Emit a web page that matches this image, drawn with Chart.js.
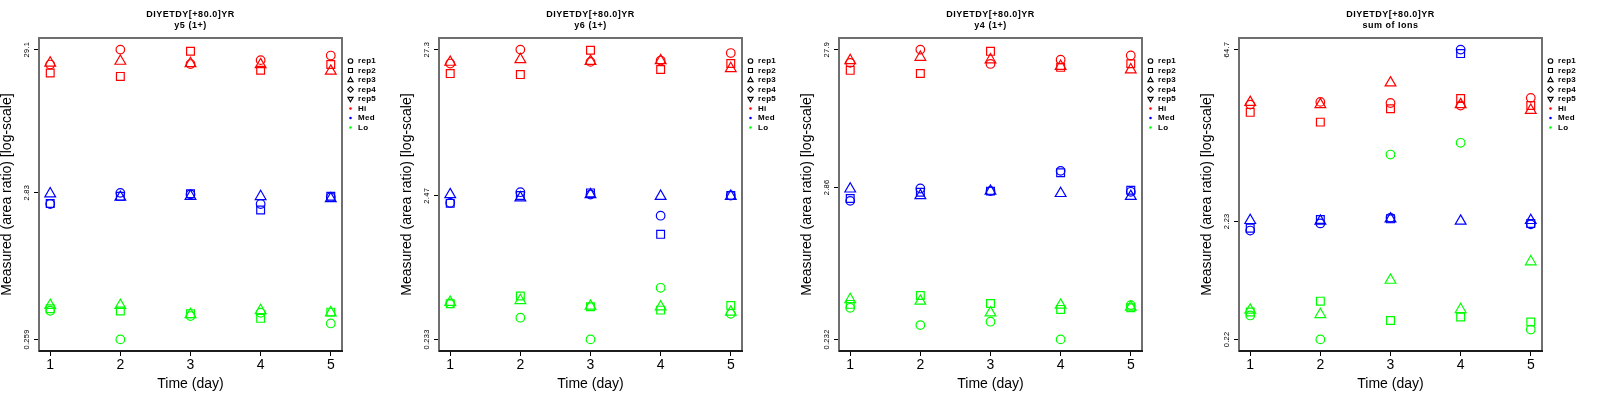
<!DOCTYPE html>
<html><head><meta charset="utf-8">
<script src="https://cdn.jsdelivr.net/npm/chart.js@4.4.1/dist/chart.umd.min.js"></script>
<style>
body{margin:0;background:#fff;width:1600px;height:400px;overflow:hidden}
.row{display:flex}
canvas{display:block}
</style>
</head><body>
<div class="row">
<canvas id="c0" width="400" height="400"></canvas>
<canvas id="c1" width="400" height="400"></canvas>
<canvas id="c2" width="400" height="400"></canvas>
<canvas id="c3" width="400" height="400"></canvas>
</div>
<script>
// ---------- data ----------
const days = [1, 2, 3, 4, 5];
const xTicks = [1, 2, 3, 4, 5];
const mainTitle = 'DIYETDY[+80.0]YR';
const subTitles = ['y5 (1+)', 'y6 (1+)', 'y4 (1+)', 'sum of Ions'];
const repNames = ['rep1', 'rep2', 'rep3', 'rep4', 'rep5'];
const groupNames = ['Hi', 'Med', 'Lo'];
const groupColors = ['#ff0000', '#0000ff', '#00ff00'];

const yTicksY5 = [0.259, 2.83, 29.1];
const yTicksY6 = [0.233, 2.47, 27.3];
const yTicksY4 = [0.232, 2.86, 27.9];
const yTicksSum = [0.22, 2.23, 64.7];

// y5 (1+)
const y5_Hi_rep1 = [22.8, 29.1, 23.0, 24.5, 26.4];
const y5_Hi_rep2 = [19.9, 18.8, 28.3, 20.8, 22.8];
const y5_Hi_rep3 = [23.4, 24.1, 23.2, 22.8, 20.5];
const y5_Med_rep1 = [2.35, 2.82, 2.75, 2.35, 2.63];
const y5_Med_rep2 = [2.37, 2.67, 2.78, 2.13, 2.67];
const y5_Med_rep3 = [2.78, 2.63, 2.67, 2.66, 2.57];
const y5_Lo_rep1 = [0.413, 0.259, 0.379, 0.400, 0.336];
const y5_Lo_rep2 = [0.427, 0.411, 0.394, 0.365, 0.404];
const y5_Lo_rep3 = [0.451, 0.451, 0.389, 0.415, 0.400];

// y6 (1+)
const y6_Hi_rep1 = [21.7, 27.3, 22.3, 22.8, 25.8];
const y6_Hi_rep2 = [18.4, 18.1, 27.0, 19.7, 21.7];
const y6_Hi_rep3 = [22.2, 23.2, 22.5, 22.8, 20.0];
const y6_Med_rep1 = [2.20, 2.62, 2.52, 1.78, 2.48];
const y6_Med_rep2 = [2.18, 2.48, 2.59, 1.31, 2.48];
const y6_Med_rep3 = [2.52, 2.39, 2.52, 2.45, 2.45];
const y6_Lo_rep1 = [0.421, 0.333, 0.233, 0.544, 0.355];
const y6_Lo_rep2 = [0.419, 0.475, 0.398, 0.377, 0.407];
const y6_Lo_rep3 = [0.429, 0.442, 0.403, 0.398, 0.365];

// y4 (1+)
const y4_Hi_rep1 = [22.4, 27.9, 22.0, 23.6, 25.3];
const y4_Hi_rep2 = [19.8, 18.8, 27.1, 20.8, 22.1];
const y4_Hi_rep3 = [23.3, 24.6, 23.6, 21.2, 20.0];
const y4_Med_rep1 = [2.29, 2.81, 2.69, 3.76, 2.66];
const y4_Med_rep2 = [2.38, 2.64, 2.69, 3.64, 2.73];
const y4_Med_rep3 = [2.79, 2.50, 2.69, 2.59, 2.47];
const y4_Lo_rep1 = [0.391, 0.294, 0.311, 0.232, 0.409];
const y4_Lo_rep2 = [0.414, 0.480, 0.420, 0.381, 0.391];
const y4_Lo_rep3 = [0.449, 0.437, 0.360, 0.409, 0.396];

// sum of Ions
const sum_Hi_rep1 = [22.0, 23.2, 22.7, 21.6, 25.1];
const sum_Hi_rep2 = [18.9, 15.6, 20.3, 24.8, 21.6];
const sum_Hi_rep3 = [23.0, 22.0, 33.7, 22.0, 19.7];
const sum_Med_rep1 = [1.86, 2.14, 2.39, 64.7, 2.10];
const sum_Med_rep2 = [1.95, 2.31, 2.34, 59.8, 2.14];
const sum_Med_rep3 = [2.27, 2.24, 2.34, 2.24, 2.27];
const sum_Lo_rep1 = [0.352, 0.220, 8.26, 10.4, 0.267];
const sum_Lo_rep2 = [0.376, 0.466, 0.319, 0.341, 0.309];
const sum_Lo_rep3 = [0.391, 0.359, 0.703, 0.396, 1.01];

const panels = [
  { sub: subTitles[0], ticks: yTicksY5, series: [[y5_Hi_rep1, y5_Hi_rep2, y5_Hi_rep3], [y5_Med_rep1, y5_Med_rep2, y5_Med_rep3], [y5_Lo_rep1, y5_Lo_rep2, y5_Lo_rep3]] },
  { sub: subTitles[1], ticks: yTicksY6, series: [[y6_Hi_rep1, y6_Hi_rep2, y6_Hi_rep3], [y6_Med_rep1, y6_Med_rep2, y6_Med_rep3], [y6_Lo_rep1, y6_Lo_rep2, y6_Lo_rep3]] },
  { sub: subTitles[2], ticks: yTicksY4, series: [[y4_Hi_rep1, y4_Hi_rep2, y4_Hi_rep3], [y4_Med_rep1, y4_Med_rep2, y4_Med_rep3], [y4_Lo_rep1, y4_Lo_rep2, y4_Lo_rep3]] },
  { sub: subTitles[3], ticks: yTicksSum, series: [[sum_Hi_rep1, sum_Hi_rep2, sum_Hi_rep3], [sum_Med_rep1, sum_Med_rep2, sum_Med_rep3], [sum_Lo_rep1, sum_Lo_rep2, sum_Lo_rep3]] }
];

// ---------- style ----------
const FONT = '"Liberation Sans", Arial, Helvetica, sans-serif';
Chart.defaults.font.family = FONT;
Chart.defaults.color = '#000';

const repStyles = [
  { pointStyle: 'circle', radius: 4.3, rotation: 0 },
  { pointStyle: 'rect', radius: 5.5, rotation: 0 },
  { pointStyle: 'triangle', radius: 6.2, rotation: 0 },
  { pointStyle: 'rectRot', radius: 5, rotation: 0 },
  { pointStyle: 'triangle', radius: 6.2, rotation: 180 }
];

function legendSymbol(ctx, kind, x, y) {
  ctx.beginPath();
  if (kind === 0) { ctx.arc(x, y, 2.3, 0, Math.PI * 2); }
  else if (kind === 1) { ctx.rect(x - 2, y - 2, 4, 4); }
  else if (kind === 2) { ctx.moveTo(x, y - 2.8); ctx.lineTo(x + 2.6, y + 1.6); ctx.lineTo(x - 2.6, y + 1.6); ctx.closePath(); }
  else if (kind === 3) { ctx.moveTo(x, y - 2.8); ctx.lineTo(x + 2.8, y); ctx.lineTo(x, y + 2.8); ctx.lineTo(x - 2.8, y); ctx.closePath(); }
  else if (kind === 4) { ctx.moveTo(x, y + 2.8); ctx.lineTo(x + 2.6, y - 1.6); ctx.lineTo(x - 2.6, y - 1.6); ctx.closePath(); }
  ctx.stroke();
}

const decor = {
  id: 'decor',
  afterDraw(chart, args, opts) {
    const { ctx, chartArea: a, scales: { y } } = chart;
    ctx.save();
    // frame
    ctx.strokeStyle = '#6f6f6f';
    ctx.lineWidth = 2;
    ctx.strokeRect(a.left, a.top, a.right - a.left, a.bottom - a.top);
    ctx.strokeStyle = '#000';
    ctx.lineWidth = 1.5;
    ctx.beginPath(); ctx.moveTo(a.left, a.bottom); ctx.lineTo(a.right + 1, a.bottom); ctx.stroke();

    // y tick labels (rotated)
    ctx.fillStyle = '#000';
    ctx.font = '7.5px ' + FONT;
    if ('letterSpacing' in ctx) ctx.letterSpacing = '0.3px';
    for (const v of opts.ticks) {
      const py = y.getPixelForValue(v);
      ctx.save();
      ctx.translate(a.left - 12.5, py);
      ctx.rotate(-Math.PI / 2);
      ctx.textAlign = 'center';
      ctx.textBaseline = 'middle';
      ctx.fillText(String(v), 0, 0);
      ctx.restore();
    }

    // titles
    const cx = (a.left + a.right) / 2;
    ctx.textAlign = 'center';
    ctx.textBaseline = 'middle';
    ctx.font = 'bold 9px ' + FONT;
    if ('letterSpacing' in ctx) ctx.letterSpacing = '0.5px';
    ctx.fillText(mainTitle, cx, 15);
    ctx.fillText(opts.sub, cx, 26);

    // legend
    const lx = a.right + 8.5, tx = a.right + 16, ly0 = 61, dy = 9.5;
    ctx.textAlign = 'left';
    ctx.font = 'bold 8px ' + FONT;
    if ('letterSpacing' in ctx) ctx.letterSpacing = '0.3px';
    ctx.strokeStyle = '#000';
    ctx.lineWidth = 1.1;
    repNames.forEach((name, i) => {
      const yy = ly0 + i * dy;
      legendSymbol(ctx, i, lx, yy);
      ctx.fillStyle = '#000';
      ctx.fillText(name, tx, yy);
    });
    groupNames.forEach((name, i) => {
      const yy = ly0 + (repNames.length + i) * dy;
      ctx.fillStyle = groupColors[i];
      ctx.beginPath(); ctx.arc(lx, yy, 1.3, 0, Math.PI * 2); ctx.fill();
      ctx.fillStyle = '#000';
      ctx.fillText(name, tx, yy);
    });
    ctx.restore();
  }
};

panels.forEach((p, idx) => {
  const datasets = [];
  p.series.forEach((reps, g) => {
    reps.forEach((vals, r) => {
      const st = repStyles[r];
      datasets.push({
        label: groupNames[g] + ' ' + repNames[r],
        data: days.map((d, i) => ({ x: d, y: vals[i] })),
        pointStyle: st.pointStyle,
        pointRadius: st.radius,
        rotation: st.rotation,
        pointBorderWidth: 1.2,
        borderColor: groupColors[g],
        pointBorderColor: groupColors[g],
        backgroundColor: 'rgba(0,0,0,0)',
        pointBackgroundColor: 'rgba(0,0,0,0)',
        showLine: false
      });
    });
  });
  const lmin = Math.log10(p.ticks[0]), lmax = Math.log10(p.ticks[p.ticks.length - 1]);
  const ext = (lmax - lmin) * 0.04;
  new Chart(document.getElementById('c' + idx), {
    type: 'scatter',
    data: { datasets },
    options: {
      responsive: false,
      animation: false,
      devicePixelRatio: 1,
      layout: { padding: { top: 38, right: 58, left: 0, bottom: 0 } },
      plugins: { legend: { display: false }, tooltip: { enabled: false }, decor: { ticks: p.ticks, sub: p.sub } },
      scales: {
        x: {
          type: 'linear',
          min: 0.84, max: 5.16,
          afterBuildTicks: s => { s.ticks = xTicks.map(v => ({ value: v })); },
          afterFit: s => { s.height = 49; },
          grid: { drawOnChartArea: false, drawTicks: true, tickLength: 5, color: '#000', lineWidth: 1 },
          border: { display: false },
          ticks: { font: { size: 14, lineHeight: 1 }, padding: 2, color: '#000', maxRotation: 0, callback: v => String(v) },
          title: { display: true, text: 'Time (day)', font: { size: 14, lineHeight: 1 }, padding: { top: 9, bottom: 9 }, color: '#000' }
        },
        y: {
          type: 'logarithmic',
          min: Math.pow(10, lmin - ext), max: Math.pow(10, lmax + ext),
          afterBuildTicks: s => { s.ticks = p.ticks.map(v => ({ value: v })); },
          afterFit: s => { s.width = 39; },
          grid: { drawOnChartArea: false, drawTicks: true, tickLength: 5, color: '#000', lineWidth: 1 },
          border: { display: false },
          ticks: { display: false },
          title: { display: true, text: 'Measured (area ratio) [log-scale]', font: { size: 14, lineHeight: 1 }, padding: { top: 0, bottom: 0 }, color: '#000' }
        }
      }
    },
    plugins: [decor]
  });
});
</script>
</body></html>
